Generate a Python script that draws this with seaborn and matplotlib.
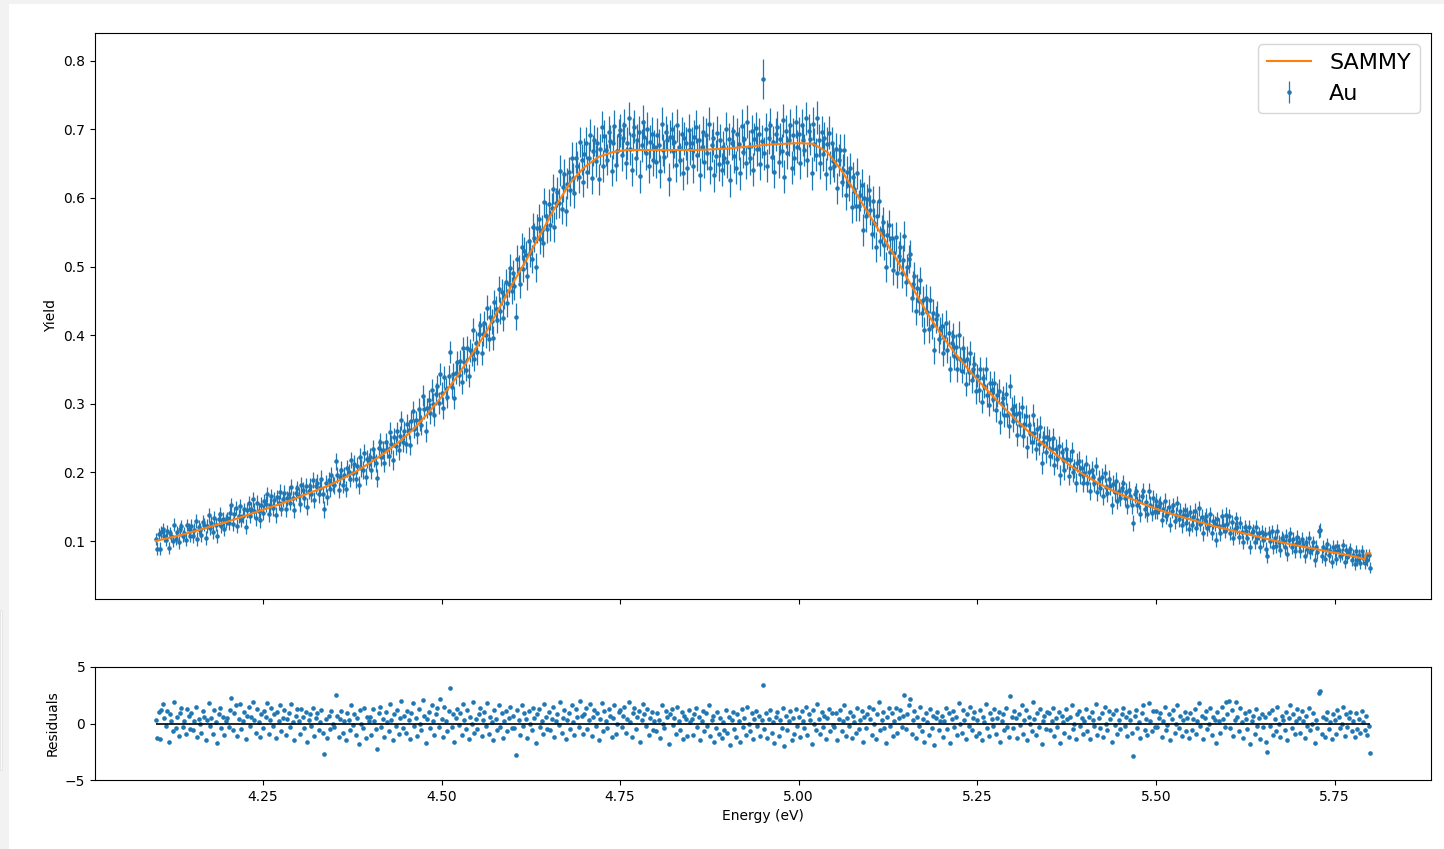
import numpy as np
import matplotlib
matplotlib.use("Agg")
import matplotlib.pyplot as plt
from matplotlib.patches import Rectangle
import seaborn as sns

# ---------------- data ----------------
# measured points: uniform energy grid (eV)
energy_start = 4.10
energy_step = 0.002

# measured yield (x 1e-3), one row = 0.05 eV
yield_milli = [
    103, 89, 110, 89, 113, 118, 108, 102, 114, 90, 112, 107, 100, 124, 103, 113, 98, 117, 122, 107, 112, 102, 123, 118, 108,
    122, 107, 116, 129, 103, 120, 116, 109, 128, 124, 104, 122, 138, 119, 126, 113, 134, 124, 107, 132, 139, 122, 132, 117, 129,
    133, 126, 141, 153, 125, 140, 148, 122, 137, 151, 130, 137, 146, 121, 145, 155, 137, 146, 161, 144, 133, 156, 144, 130, 153,
    141, 158, 154, 168, 139, 152, 165, 148, 160, 138, 164, 156, 172, 147, 161, 170, 146, 162, 169, 156, 179, 162, 145, 170, 177,
    166, 154, 181, 174, 162, 180, 150, 173, 180, 169, 189, 160, 180, 185, 168, 177, 191, 168, 146, 184, 164, 189, 176, 196, 183,
    181, 216, 196, 174, 194, 204, 182, 196, 176, 206, 200, 191, 218, 199, 212, 190, 210, 182, 222, 207, 203, 228, 194, 220, 216,
    222, 203, 234, 221, 214, 192, 235, 244, 222, 233, 214, 244, 234, 224, 259, 241, 218, 251, 239, 260, 232, 253, 276, 244, 261,
    242, 271, 262, 240, 275, 290, 264, 276, 256, 293, 276, 269, 312, 293, 260, 294, 305, 286, 320, 300, 283, 314, 326, 301, 343,
    316, 294, 339, 321, 310, 341, 376, 324, 344, 309, 345, 361, 342, 362, 332, 381, 361, 350, 382, 341, 378, 372, 408, 365, 389,
    375, 402, 415, 374, 402, 418, 400, 440, 395, 426, 420, 396, 448, 438, 422, 468, 436, 463, 425, 457, 477, 447, 475, 498, 465,
    490, 471, 427, 511, 497, 474, 529, 497, 523, 517, 486, 537, 520, 511, 557, 542, 499, 556, 570, 540, 554, 535, 594, 574, 555,
    591, 560, 586, 613, 558, 592, 609, 593, 640, 584, 616, 635, 581, 621, 638, 611, 659, 629, 607, 659, 647, 630, 682, 656, 623,
    664, 680, 638, 658, 692, 629, 669, 684, 654, 680, 627, 671, 704, 647, 690, 670, 656, 696, 683, 640, 680, 705, 648, 669, 692,
    699, 663, 687, 706, 651, 680, 716, 672, 641, 692, 704, 658, 684, 696, 632, 677, 711, 689, 665, 701, 646, 682, 694, 656, 675,
    653, 692, 677, 639, 708, 670, 660, 696, 684, 627, 689, 701, 668, 682, 648, 706, 675, 656, 694, 636, 687, 680, 644, 699, 672,
    680, 646, 689, 704, 663, 684, 634, 675, 696, 653, 692, 665, 708, 644, 677, 687, 633, 661, 695, 649, 684, 641, 674, 658, 701,
    653, 686, 626, 680, 697, 661, 644, 693, 679, 636, 705, 667, 686, 651, 711, 675, 658, 697, 641, 686, 702, 671, 693, 650, 683,
    774, 665, 700, 647, 688, 707, 660, 681, 638, 693, 703, 653, 686, 669, 713, 631, 697, 666, 685, 706, 644, 692, 658, 711, 675,
    694, 651, 706, 685, 670, 716, 655, 698, 686, 636, 708, 678, 663, 717, 684, 651, 696, 664, 687, 635, 679, 695, 644, 680, 654,
    647, 672, 614, 655, 670, 624, 641, 670, 605, 638, 619, 643, 587, 630, 613, 589, 636, 589, 604, 619, 553, 600, 574, 598, 611,
    582, 548, 595, 563, 529, 574, 595, 537, 553, 565, 531, 499, 546, 560, 522, 542, 495, 520, 543, 491, 516, 528, 491, 509, 545,
    477, 499, 511, 519, 454, 474, 486, 435, 469, 450, 480, 432, 451, 407, 454, 434, 409, 452, 414, 433, 378, 423, 430, 394, 407,
    413, 374, 398, 418, 379, 403, 351, 388, 399, 369, 383, 351, 401, 365, 348, 381, 362, 329, 366, 346, 374, 334, 351, 358, 318,
    341, 320, 351, 303, 337, 326, 351, 313, 299, 331, 320, 307, 331, 291, 313, 319, 273, 301, 309, 283, 315, 284, 267, 326, 293,
    275, 297, 285, 254, 286, 269, 295, 253, 270, 282, 237, 269, 257, 244, 284, 258, 234, 263, 242, 266, 214, 245, 251, 230, 252,
    248, 224, 234, 250, 211, 234, 220, 238, 196, 230, 220, 204, 234, 219, 195, 218, 231, 200, 206, 185, 214, 217, 197, 206, 185,
    199, 212, 185, 200, 173, 203, 193, 185, 209, 172, 191, 178, 194, 165, 199, 179, 170, 191, 180, 153, 183, 171, 187, 159, 173,
    163, 177, 184, 163, 172, 151, 175, 166, 152, 126, 168, 173, 153, 158, 140, 166, 173, 146, 157, 140, 173, 153, 141, 162, 144,
    159, 143, 151, 155, 131, 146, 159, 136, 140, 150, 124, 144, 152, 129, 138, 155, 132, 144, 123, 138, 145, 126, 138, 118, 142,
    124, 135, 144, 119, 131, 148, 125, 135, 111, 131, 137, 119, 124, 139, 112, 129, 125, 102, 132, 122, 111, 136, 123, 115, 138,
    125, 137, 112, 128, 104, 118, 133, 120, 106, 127, 113, 99, 120, 115, 105, 121, 91, 111, 115, 99, 120, 105, 111, 92, 113,
    102, 110, 88, 78, 112, 100, 114, 91, 105, 93, 115, 99, 87, 105, 101, 91, 107, 81, 101, 111, 91, 103, 85, 96, 106,
    98, 85, 103, 94, 78, 98, 89, 104, 84, 89, 98, 72, 91, 84, 114, 116, 78, 92, 74, 89, 95, 80, 85, 70, 91,
    86, 74, 93, 87, 78, 81, 94, 70, 87, 77, 84, 88, 72, 80, 67, 85, 72, 79, 68, 85, 75, 68, 80, 73, 80,
    61,
]

# yield uncertainty (x 1e-3)
yield_err_milli = [
    9, 9, 9, 9, 9, 9, 9, 9, 9, 9, 9, 9, 9, 9, 9, 9, 9, 9, 9, 9, 9, 9, 9, 9, 9,
    10, 10, 10, 10, 10, 10, 10, 10, 10, 10, 10, 10, 10, 10, 10, 10, 10, 10, 10, 10, 10, 10, 10, 10, 10,
    10, 10, 10, 10, 10, 10, 10, 10, 10, 10, 10, 10, 10, 11, 11, 11, 11, 11, 11, 11, 11, 11, 11, 11, 11,
    11, 11, 11, 11, 11, 11, 11, 11, 11, 11, 11, 11, 11, 11, 11, 11, 11, 11, 11, 11, 11, 11, 11, 11, 11,
    12, 12, 12, 12, 12, 12, 12, 12, 12, 12, 12, 12, 12, 12, 12, 12, 12, 12, 12, 12, 12, 12, 12, 12, 12,
    12, 12, 12, 12, 12, 12, 12, 12, 12, 12, 12, 12, 12, 13, 13, 13, 13, 13, 13, 13, 13, 13, 13, 13, 13,
    13, 13, 13, 13, 13, 13, 13, 13, 13, 13, 13, 13, 13, 14, 14, 14, 14, 14, 14, 14, 14, 14, 14, 14, 14,
    14, 14, 14, 14, 14, 14, 14, 14, 14, 15, 15, 15, 15, 15, 15, 15, 15, 15, 16, 16, 16, 16, 16, 16, 16,
    16, 16, 16, 16, 16, 16, 16, 16, 16, 16, 16, 16, 16, 17, 17, 17, 17, 17, 17, 17, 17, 17, 17, 17, 17,
    18, 18, 18, 18, 18, 18, 18, 18, 18, 18, 18, 18, 18, 19, 19, 19, 19, 19, 19, 19, 19, 20, 20, 20, 20,
    20, 20, 20, 20, 20, 20, 20, 20, 20, 20, 20, 20, 20, 21, 21, 21, 21, 21, 21, 21, 21, 21, 21, 21, 21,
    22, 22, 22, 22, 22, 22, 22, 22, 22, 22, 22, 22, 22, 22, 22, 22, 22, 22, 22, 22, 22, 22, 22, 22, 22,
    23, 23, 23, 23, 23, 23, 23, 23, 23, 23, 23, 23, 23, 23, 23, 23, 23, 23, 23, 23, 23, 23, 23, 23, 23,
    24, 24, 24, 24, 24, 24, 24, 24, 24, 24, 24, 24, 24, 24, 24, 24, 24, 24, 24, 24, 24, 24, 24, 24, 24,
    24, 24, 24, 24, 24, 24, 24, 24, 24, 24, 24, 24, 24, 24, 24, 24, 24, 24, 24, 24, 24, 24, 24, 24, 24,
    24, 24, 24, 24, 24, 24, 24, 24, 24, 24, 24, 24, 24, 24, 24, 24, 24, 24, 24, 24, 24, 24, 24, 24, 24,
    24, 24, 24, 24, 24, 24, 24, 24, 24, 24, 24, 24, 24, 24, 24, 24, 24, 24, 24, 24, 24, 24, 24, 24, 24,
    29, 24, 24, 24, 24, 24, 24, 24, 24, 24, 24, 24, 24, 24, 24, 24, 24, 24, 24, 24, 24, 24, 24, 24, 24,
    24, 24, 24, 24, 24, 24, 24, 24, 24, 24, 24, 24, 24, 24, 24, 24, 24, 24, 24, 24, 24, 24, 24, 24, 24,
    23, 23, 23, 23, 23, 23, 23, 23, 23, 23, 23, 23, 23, 23, 23, 23, 23, 23, 23, 23, 23, 23, 23, 23, 23,
    22, 22, 22, 22, 22, 22, 22, 22, 22, 22, 22, 22, 22, 22, 22, 22, 22, 22, 22, 22, 22, 22, 22, 22, 22,
    20, 20, 20, 20, 20, 20, 20, 20, 20, 20, 20, 20, 20, 20, 20, 20, 20, 20, 20, 20, 20, 20, 20, 20, 20,
    19, 19, 19, 19, 19, 19, 19, 19, 19, 19, 19, 19, 19, 18, 18, 18, 18, 18, 18, 18, 18, 18, 18, 18, 18,
    17, 17, 17, 17, 17, 17, 17, 17, 17, 17, 17, 17, 17, 17, 17, 17, 17, 17, 17, 17, 17, 17, 17, 17, 17,
    16, 16, 16, 16, 16, 16, 16, 16, 16, 16, 16, 16, 16, 16, 16, 16, 16, 16, 16, 16, 16, 16, 16, 16, 16,
    15, 15, 15, 15, 15, 15, 15, 15, 15, 15, 15, 15, 15, 14, 14, 14, 14, 14, 14, 14, 14, 14, 14, 14, 14,
    13, 13, 13, 13, 13, 13, 13, 13, 13, 13, 13, 13, 13, 13, 13, 13, 13, 13, 13, 13, 13, 13, 13, 13, 13,
    12, 12, 12, 12, 12, 12, 12, 12, 12, 12, 12, 12, 12, 12, 12, 12, 12, 12, 12, 12, 12, 12, 12, 12, 12,
    11, 11, 11, 11, 11, 11, 11, 11, 11, 11, 11, 11, 11, 11, 11, 11, 11, 11, 11, 11, 11, 11, 11, 11, 11,
    11, 11, 11, 11, 11, 11, 11, 11, 11, 11, 11, 11, 11, 11, 11, 11, 11, 11, 11, 11, 11, 11, 11, 11, 11,
    10, 10, 10, 10, 10, 10, 10, 10, 10, 10, 10, 10, 10, 10, 10, 10, 10, 10, 10, 10, 10, 10, 10, 10, 10,
    10, 10, 10, 10, 10, 10, 10, 10, 10, 10, 10, 10, 10, 10, 10, 10, 10, 10, 10, 10, 10, 10, 10, 10, 10,
    10, 10, 10, 10, 10, 10, 10, 10, 10, 10, 10, 10, 10, 10, 10, 10, 10, 10, 10, 10, 10, 10, 10, 10, 10,
    9, 9, 9, 9, 9, 9, 9, 9, 9, 9, 9, 9, 9, 9, 9, 9, 9, 9, 9, 9, 9, 9, 9, 9, 9,
    8,
]

# normalised residuals (data - SAMMY) / uncertainty
residuals = [
    0.3, -1.3, 1.0, -1.4, 1.2, 1.7, 0.5, -0.2, 1.1, -1.6, 0.8, 0.2, -0.7, 1.9, -0.4, 0.6, -1.1, 0.9, 1.4, -0.3, 0.2, -0.9, 1.3, 0.7, -0.5,
    0.9, -0.6, 0.2, 1.5, -1.2, 0.4, 0.0, -0.8, 1.1, 0.6, -1.5, 0.3, 1.8, -0.2, 0.5, -0.9, 1.2, 0.1, -1.7, 0.8, 1.4, -0.4, 0.6, -1.0, 0.2,
    0.5, -0.3, 1.2, 2.3, -0.6, 0.9, 1.6, -1.1, 0.4, 1.7, -0.5, 0.2, 1.0, -1.4, 0.7, 1.5, -0.2, 0.6, 1.9, 0.3, -0.8, 1.3, 0.1, -1.2, 0.8,
    -0.4, 1.1, 0.6, 1.8, -0.9, 0.3, 1.4, -0.2, 0.8, -1.3, 1.0, 0.2, 1.6, -0.7, 0.5, 1.2, -1.0, 0.4, 0.9, -0.3, 1.7, 0.1, -1.5, 0.7, 1.3,
    0.2, -0.9, 1.3, 0.6, -0.4, 1.0, -1.6, 0.3, 0.8, -0.2, 1.4, -1.1, 0.5, 0.9, -0.6, 0.1, 1.2, -0.8, -2.7, 0.4, -1.3, 0.7, -0.5, 1.1, 0.0,
    -0.3, 2.5, 0.7, -1.2, 0.4, 1.1, -0.8, 0.2, -1.5, 0.9, 0.3, -0.6, 1.6, -0.1, 0.8, -1.0, 0.5, -1.8, 1.2, 0.0, -0.4, 1.4, -1.3, 0.6, 0.2,
    0.6, -1.0, 1.3, 0.2, -0.5, -2.3, 0.9, 1.5, -0.3, 0.4, -1.2, 1.0, 0.1, -0.7, 1.7, 0.3, -1.5, 0.8, -0.2, 1.2, -0.9, 0.5, 2.0, -0.4, 0.7,
    -0.8, 1.1, 0.3, -1.4, 0.9, 1.8, -0.2, 0.5, -1.1, 1.3, 0.0, -0.6, 2.1, 0.7, -1.7, 0.4, 1.0, -0.4, 1.6, 0.2, -1.0, 0.8, 1.4, -0.3, 2.2,
    0.4, -1.2, 1.5, 0.2, -0.7, 1.1, 3.1, -0.3, 0.8, -1.6, 0.5, 1.3, -0.1, 0.9, -1.0, 1.7, 0.3, -0.5, 1.2, -1.4, 0.6, 0.0, 1.9, -0.8, 0.4,
    -0.5, 0.8, 1.4, -1.1, 0.3, 1.0, -0.2, 1.8, -0.9, 0.6, 0.1, -1.5, 1.2, 0.4, -0.6, 1.6, -0.3, 0.9, -1.3, 0.2, 1.1, -0.7, 0.5, 1.5, -0.4,
    0.7, -0.4, -2.8, 1.2, 0.3, -1.0, 1.6, -0.2, 0.9, 0.4, -1.3, 1.1, 0.0, -0.6, 1.4, 0.5, -1.7, 0.8, 1.3, -0.3, 0.2, -0.9, 1.7, 0.6, -0.5,
    1.0, -0.6, 0.4, 1.5, -1.2, 0.2, 0.8, -0.1, 1.9, -0.8, 0.5, 1.2, -1.4, 0.3, 0.9, -0.5, 1.6, 0.1, -1.0, 1.3, 0.6, -0.3, 2.0, 0.7, -0.9,
    0.8, 1.4, -0.5, 0.3, 1.7, -1.1, 0.6, 1.2, -0.2, 0.9, -1.5, 0.4, 1.8, -0.7, 1.1, 0.2, -0.4, 1.3, 0.7, -1.2, 0.5, 1.6, -0.9, 0.0, 1.0,
    1.2, -0.3, 0.7, 1.5, -0.8, 0.4, 1.9, 0.1, -1.2, 0.9, 1.4, -0.5, 0.6, 1.1, -1.6, 0.3, 1.7, 0.8, -0.2, 1.3, -1.0, 0.5, 1.0, -0.6, 0.2,
    -0.7, 0.9, 0.3, -1.3, 1.6, 0.0, -0.4, 1.1, 0.6, -1.8, 0.8, 1.3, -0.1, 0.5, -0.9, 1.5, 0.2, -0.6, 1.0, -1.4, 0.7, 0.4, -1.1, 1.2, 0.1,
    0.4, -1.0, 0.8, 1.4, -0.3, 0.6, -1.5, 0.2, 1.1, -0.7, 0.9, -0.2, 1.6, -1.1, 0.3, 0.7, -1.6, -0.4, 1.0, -0.9, 0.5, -1.3, 0.1, -0.6, 1.2,
    -0.8, 0.6, -1.9, 0.3, 1.0, -0.5, -1.2, 0.8, 0.2, -1.6, 1.3, -0.3, 0.5, -1.0, 1.5, 0.0, -0.7, 0.9, -1.4, 0.4, 1.1, -0.2, 0.7, -1.1, 0.3,
    3.4, -0.5, 0.9, -1.3, 0.4, 1.2, -0.8, 0.1, -1.7, 0.6, 1.0, -1.1, 0.3, -0.4, 1.4, -2.0, 0.7, -0.6, 0.2, 1.1, -1.5, 0.5, -0.9, 1.3, -0.2,
    0.6, -1.2, 1.1, 0.2, -0.4, 1.5, -1.0, 0.8, 0.3, -1.8, 1.2, 0.0, -0.6, 1.7, 0.4, -0.9, 1.0, -0.3, 0.7, -1.4, 0.5, 1.3, -0.7, 0.9, -0.1,
    -0.3, 0.9, -1.5, 0.4, 1.2, -0.7, 0.2, 1.6, -1.1, 0.5, -0.2, 1.0, -1.3, 0.7, 0.1, -0.8, 1.4, -0.5, 0.3, 1.1, -1.6, 0.6, -0.4, 0.8, 1.5,
    0.4, -1.0, 1.3, 0.0, -1.4, 0.8, 1.9, -0.6, 0.3, 1.0, -0.4, -1.7, 0.6, 1.4, -0.2, 0.9, -1.1, 0.2, 1.4, -0.8, 0.5, 1.2, -0.3, 0.7, 2.5,
    -0.5, 0.8, 1.6, 2.2, -0.9, 0.3, 1.1, -1.3, 0.6, -0.2, 1.5, -0.7, 0.4, -1.6, 0.9, 0.1, -1.0, 1.3, -0.4, 0.7, -1.9, 0.5, 1.0, -0.6, 0.2,
    0.7, -1.2, 0.2, 1.4, -0.5, 0.9, -1.7, 0.4, 1.1, -0.3, 0.6, -1.0, 1.8, 0.0, -0.8, 1.2, 0.3, -1.4, 0.8, -0.2, 1.5, -0.6, 0.5, 1.0, -1.1,
    0.3, -0.8, 1.2, -1.5, 0.6, 0.1, 1.7, -0.4, -1.1, 0.9, 0.4, -0.2, 1.3, -0.9, 0.5, 1.0, -1.6, 0.2, 0.8, -0.6, 1.4, -0.3, -1.2, 2.4, 0.6,
    -0.4, 1.1, 0.5, -1.3, 0.8, -0.1, 1.6, -0.9, 0.3, 1.2, -1.5, 0.6, 0.0, -0.7, 1.9, 0.4, -1.0, 0.9, -0.3, 1.3, -1.8, 0.2, 0.7, -0.5, 1.0,
    0.9, -0.6, 0.2, 1.4, -1.1, 0.5, -0.3, 1.0, -1.7, 0.7, 0.1, -0.8, 1.3, 0.4, -1.2, 0.6, 1.6, -0.5, 0.0, -1.4, 0.8, 1.1, -0.2, 0.5, -0.9,
    0.2, 1.3, -0.7, 0.6, -1.4, 1.0, 0.3, -0.2, 1.7, -1.0, 0.5, -0.4, 0.9, -1.2, 1.5, 0.0, -0.6, 1.1, 0.4, -1.6, 0.8, -0.1, 1.2, -0.9, 0.3,
    -0.5, 0.8, 1.4, -0.2, 0.6, -1.1, 1.0, 0.3, -0.8, -2.9, 0.7, 1.2, -0.4, 0.1, -1.3, 0.9, 1.6, -0.6, 0.4, -1.0, 1.8, 0.2, -0.7, 1.1, -0.3,
    1.1, -0.3, 0.5, 0.9, -1.2, 0.2, 1.5, -0.6, -0.1, 0.8, -1.5, 0.4, 1.2, -0.8, 0.0, 1.6, -0.4, 0.7, -1.1, 0.3, 1.0, -0.7, 0.5, -1.3, 0.9,
    -0.6, 0.4, 1.3, -0.9, 0.2, 1.8, -0.2, 0.7, -1.4, 0.5, 1.1, -0.5, 0.0, 1.4, -1.0, 0.6, 0.3, -1.7, 1.0, 0.2, -0.8, 1.5, 0.4, -0.3, 1.9,
    0.8, 2.0, -0.4, 1.2, -1.1, 0.3, 1.9, 0.6, -0.7, 1.4, 0.1, -1.3, 0.9, 0.4, -0.5, 1.1, -1.8, 0.2, 0.7, -0.9, 1.3, -0.2, 0.5, -1.4, 0.8,
    -0.3, 0.6, -1.6, -2.5, 0.9, -0.2, 1.2, -1.0, 0.4, -0.7, 1.5, 0.0, -1.2, 0.7, 0.3, -0.6, 1.0, -1.5, 0.5, 1.6, -0.4, 0.8, -0.9, 0.2, 1.3,
    0.5, -0.8, 1.1, 0.2, -1.3, 0.7, -0.2, 1.4, -0.6, 0.0, 0.9, -1.7, 0.3, -0.4, 2.7, 2.9, -0.9, 0.6, -1.2, 0.4, 1.0, -0.5, 0.1, -1.4, 0.8,
    0.3, -0.9, 1.2, 0.6, -0.4, 0.0, 1.5, -1.1, 0.8, -0.3, 0.5, 1.0, -0.7, 0.2, -1.2, 0.9, -0.5, 0.4, -0.8, 1.1, 0.1, -0.6, 0.7, -1.0, -0.2,
    -2.6,
]

# SAMMY fitted curve
sammy_energy = [
    4.10, 4.12, 4.14, 4.16, 4.18, 4.20, 4.22, 4.24, 4.26, 4.28, 4.30, 4.32, 4.34, 4.36, 4.38,
    4.40, 4.42, 4.44, 4.46, 4.48, 4.50, 4.52, 4.54, 4.56, 4.58, 4.60, 4.62, 4.64, 4.66, 4.68,
    4.70, 4.72, 4.74, 4.76, 4.78, 4.80, 4.82, 4.84, 4.86, 4.88, 4.90, 4.92, 4.94, 4.96, 4.98,
    5.00, 5.02, 5.04, 5.06, 5.08, 5.10, 5.12, 5.14, 5.16, 5.18, 5.20, 5.22, 5.24, 5.26, 5.28,
    5.30, 5.32, 5.34, 5.36, 5.38, 5.40, 5.42, 5.44, 5.46, 5.48, 5.50, 5.52, 5.54, 5.56, 5.58,
    5.60, 5.62, 5.64, 5.66, 5.68, 5.70, 5.72, 5.74, 5.76, 5.78, 5.79, 5.792, 5.794, 5.80,
]
sammy_yield_milli = [
    100, 105, 110, 116, 122, 128, 135, 142, 149, 156, 164, 172, 180, 190, 201,
    214, 228, 244, 262, 285, 310, 337, 368, 400, 438, 476, 512, 550, 588, 622,
    645, 660, 667, 670, 670, 670, 670, 670, 670, 671, 672, 674, 676, 678, 679,
    680, 679, 667, 640, 607, 573, 540, 505, 468, 432, 400, 372, 347, 324, 302,
    281, 261, 243, 226, 210, 196, 184, 173, 164, 155, 147, 140, 134, 128, 122,
    117, 112, 107, 102, 97, 93, 89, 85, 81, 77, 74, 73, 82, 82,
]

# ---------------- derived arrays ----------------
y_data = np.asarray(yield_milli) / 1000.0
y_err = np.asarray(yield_err_milli) / 1000.0
res = np.asarray(residuals)
energy = np.round(energy_start + energy_step * np.arange(len(y_data)), 3)
s_energy = np.asarray(sammy_energy)
s_yield = np.asarray(sammy_yield_milli) / 1000.0

# ---------------- figure ----------------
W, H = 1444, 849
fig = plt.figure(figsize=(W / 100, H / 100), dpi=100)
fig.patch.set_facecolor("white")
# page frame of the notebook screenshot
fig.patches.append(Rectangle((0, 0), 9 / W, 1, transform=fig.transFigure,
                             facecolor="#f2f2f2", edgecolor="none", zorder=-10))
fig.patches.append(Rectangle((0, 1 - 4 / H), 1, 4 / H, transform=fig.transFigure,
                             facecolor="#f2f2f2", edgecolor="none", zorder=-10))
fig.patches.append(Rectangle((0, 1 - 770 / H), 2 / W, 160 / H, transform=fig.transFigure,
                             facecolor="#fbfbfb", edgecolor="#e4e4e4", lw=0.6, zorder=-9))

left, right = 95 / W, 1431 / W
ax1 = fig.add_axes([left, 1 - 599 / H, right - left, (599 - 33) / H])
ax2 = fig.add_axes([left, 1 - 780 / H, right - left, (780 - 667) / H], sharex=ax1)

# data with error bars
eb = ax1.errorbar(energy, y_data, yerr=y_err, fmt=".", color="C0",
                  elinewidth=0.9, markersize=4.5, label="Au", zorder=2)
# SAMMY curve
sns.lineplot(x=s_energy, y=s_yield, ax=ax1, color="C1", linewidth=1.5,
             sort=False, estimator=None, label="SAMMY", zorder=3)
line = ax1.get_lines()[-1]
ax1.legend(handles=[line, eb], labels=["SAMMY", "Au"], loc="upper right",
           fontsize=16)
ax1.set_ylabel("Yield")
ax1.tick_params(labelbottom=False)

# residuals
sns.scatterplot(x=energy, y=res, ax=ax2, color="C0", s=11, linewidth=0, zorder=2)
ax2.hlines(0, energy.min(), energy.max(), color="black", linewidth=1.2, zorder=3)
ax2.set_ylim(-5, 5)
ax2.set_yticks([-5, 0, 5])
ax2.set_ylabel("Residuals")
ax2.set_xlabel("Energy (eV)")

for ax in (ax1, ax2):
    for sp in ax.spines.values():
        sp.set_color("black")

fig.savefig("out.png", dpi=100)
